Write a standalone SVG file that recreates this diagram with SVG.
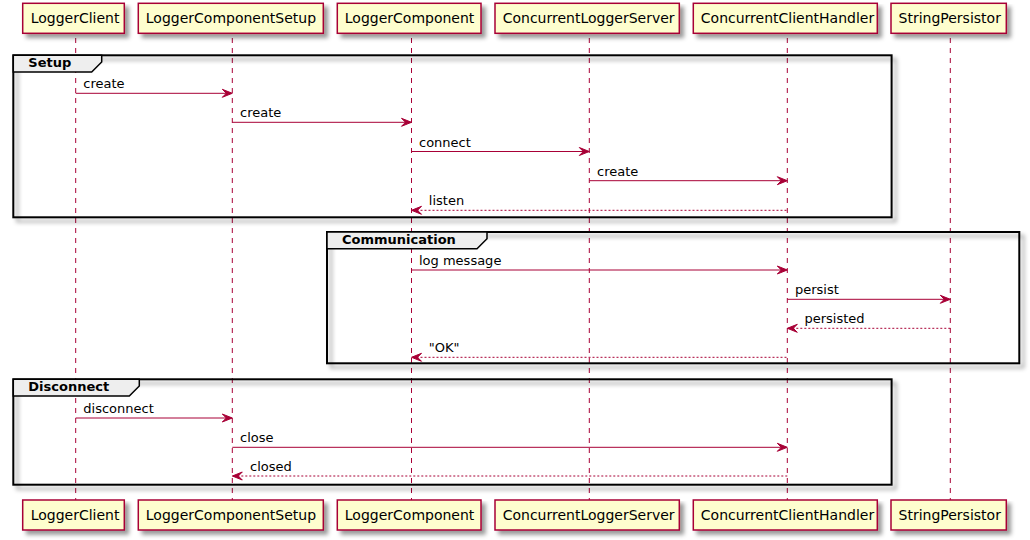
<svg xmlns="http://www.w3.org/2000/svg" width="1030" height="540" viewBox="0 0 1030 540">
<style>
.bg{fill:#FFFFFF}
.life{stroke:#A80036;stroke-width:1;stroke-dasharray:5,5;fill:none}
.pbox{fill:#FEFECE;stroke:#A80036;stroke-width:1.5}
.ptxt{font-family:"DejaVu Sans",sans-serif;font-size:14px;fill:#000000}
.frame{fill:none;stroke:#000000;stroke-width:2}
.tab{fill:#EEEEEE;stroke:#000000;stroke-width:1.5}
.ftxt{font-family:"DejaVu Sans",sans-serif;font-size:13px;font-weight:bold;fill:#000000}
.msg{stroke:#A80036;stroke-width:1;fill:none}
.ret{stroke:#A80036;stroke-width:1;fill:none;stroke-dasharray:2,2}
.head{fill:#A80036;stroke:#A80036;stroke-width:1}
.mtxt{font-family:"DejaVu Sans",sans-serif;font-size:13px;fill:#000000}
</style>
<defs>
<filter id="sh" x="-0.1" y="-0.1" width="1.3" height="1.5">
<feGaussianBlur in="SourceAlpha" stdDeviation="2" result="b"/>
<feColorMatrix in="b" type="matrix" values="0 0 0 0 0  0 0 0 0 0  0 0 0 0 0  0 0 0 .4 0" result="b2"/>
<feOffset in="b2" dx="4" dy="4" result="b3"/>
<feMerge><feMergeNode in="b3"/><feMergeNode in="SourceGraphic"/></feMerge>
</filter>
</defs>
<rect class="bg" x="0" y="0" width="1030" height="540"/>

<g id="lifelines">
<line class="life" x1="75.7" y1="38" x2="75.7" y2="500"/>
<line class="life" x1="232.3" y1="38" x2="232.3" y2="500"/>
<line class="life" x1="411.5" y1="38" x2="411.5" y2="500"/>
<line class="life" x1="589.3" y1="38" x2="589.3" y2="500"/>
<line class="life" x1="787.3" y1="38" x2="787.3" y2="500"/>
<line class="life" x1="950.3" y1="38" x2="950.3" y2="500"/>
</g>

<g id="frame-setup">
<rect class="frame" x="13.3" y="55.3" width="878.3" height="162" filter="url(#sh)"/>
<path class="tab" d="M13.3,55.3 L101.7,55.3 L101.7,62 L91.7,72 L13.3,72 Z"/>
<text class="ftxt" x="28.3" y="67.3">Setup</text>
</g>
<g id="frame-communication">
<rect class="frame" x="327" y="232" width="692.3" height="131.3" filter="url(#sh)"/>
<path class="tab" d="M327,232 L487,232 L487,238.7 L477,248.7 L327,248.7 Z"/>
<text class="ftxt" x="342" y="244">Communication</text>
</g>
<g id="frame-disconnect">
<rect class="frame" x="13.3" y="379.3" width="878.3" height="105.4" filter="url(#sh)"/>
<path class="tab" d="M13.3,379.3 L139.3,379.3 L139.3,386 L129.3,396 L13.3,396 Z"/>
<text class="ftxt" x="28.3" y="391.3">Disconnect</text>
</g>

<g id="connectors">
<line class="msg" x1="75.7" y1="93.3" x2="231.3" y2="93.3"/>
<polygon class="head" points="222.3,89.3 232.3,93.3 222.3,97.3 226.3,93.3"/>
<text class="mtxt" x="83.3" y="88.3">create</text>

<line class="msg" x1="232.3" y1="122.3" x2="410.5" y2="122.3"/>
<polygon class="head" points="401.5,118.3 411.5,122.3 401.5,126.3 405.5,122.3"/>
<text class="mtxt" x="240" y="117.3">create</text>

<line class="msg" x1="411.5" y1="151.5" x2="588.3" y2="151.5"/>
<polygon class="head" points="579.3,147.5 589.3,151.5 579.3,155.5 583.3,151.5"/>
<text class="mtxt" x="419" y="146.5">connect</text>

<line class="msg" x1="589.3" y1="180.7" x2="786.3" y2="180.7"/>
<polygon class="head" points="777.3,176.7 787.3,180.7 777.3,184.7 781.3,180.7"/>
<text class="mtxt" x="597" y="175.7">create</text>

<line class="ret" x1="412.5" y1="210.3" x2="787.3" y2="210.3"/>
<polygon class="head" points="421.5,206.3 411.5,210.3 421.5,214.3 417.5,210.3"/>
<text class="mtxt" x="428.8" y="205.3">listen</text>

<line class="msg" x1="411.5" y1="270" x2="786.3" y2="270"/>
<polygon class="head" points="777.3,266 787.3,270 777.3,274 781.3,270"/>
<text class="mtxt" x="419" y="265">log message</text>

<line class="msg" x1="787.3" y1="299.3" x2="949.3" y2="299.3"/>
<polygon class="head" points="940.3,295.3 950.3,299.3 940.3,303.3 944.3,299.3"/>
<text class="mtxt" x="795" y="294.3">persist</text>

<line class="ret" x1="788.3" y1="328.3" x2="950.3" y2="328.3"/>
<polygon class="head" points="797.3,324.3 787.3,328.3 797.3,332.3 793.3,328.3"/>
<text class="mtxt" x="804.5" y="323.3">persisted</text>

<line class="ret" x1="412.5" y1="357.3" x2="787.3" y2="357.3"/>
<polygon class="head" points="421.5,353.3 411.5,357.3 421.5,361.3 417.5,357.3"/>
<text class="mtxt" x="428.8" y="352.3">"OK"</text>

<line class="msg" x1="75.7" y1="418" x2="231.3" y2="418"/>
<polygon class="head" points="222.3,414 232.3,418 222.3,422 226.3,418"/>
<text class="mtxt" x="83.3" y="413">disconnect</text>

<line class="msg" x1="232.3" y1="447.3" x2="786.3" y2="447.3"/>
<polygon class="head" points="777.3,443.3 787.3,447.3 777.3,451.3 781.3,447.3"/>
<text class="mtxt" x="240" y="442.3">close</text>

<line class="ret" x1="233.3" y1="476" x2="787.3" y2="476"/>
<polygon class="head" points="242.3,472 232.3,476 242.3,480 238.3,476"/>
<text class="mtxt" x="250" y="471">closed</text>
</g>

<g id="LoggerClient">
<rect class="pbox" x="22.7" y="3.3" width="101.6" height="30" filter="url(#sh)"/>
<text class="ptxt" x="30.7" y="23.3">LoggerClient</text>
<rect class="pbox" x="22.7" y="500" width="101.6" height="30" filter="url(#sh)"/>
<text class="ptxt" x="30.7" y="520">LoggerClient</text>
</g>
<g id="LoggerComponentSetup">
<rect class="pbox" x="138.3" y="3.3" width="185" height="30" filter="url(#sh)"/>
<text class="ptxt" x="145.8" y="23.3">LoggerComponentSetup</text>
<rect class="pbox" x="138.3" y="500" width="185" height="30" filter="url(#sh)"/>
<text class="ptxt" x="145.8" y="520">LoggerComponentSetup</text>
</g>
<g id="LoggerComponent">
<rect class="pbox" x="337.3" y="3.3" width="143.7" height="30" filter="url(#sh)"/>
<text class="ptxt" x="344.8" y="23.3">LoggerComponent</text>
<rect class="pbox" x="337.3" y="500" width="143.7" height="30" filter="url(#sh)"/>
<text class="ptxt" x="344.8" y="520">LoggerComponent</text>
</g>
<g id="ConcurrentLoggerServer">
<rect class="pbox" x="495" y="3.3" width="184.3" height="30" filter="url(#sh)"/>
<text class="ptxt" x="502.7" y="23.3">ConcurrentLoggerServer</text>
<rect class="pbox" x="495" y="500" width="184.3" height="30" filter="url(#sh)"/>
<text class="ptxt" x="502.7" y="520">ConcurrentLoggerServer</text>
</g>
<g id="ConcurrentClientHandler">
<rect class="pbox" x="693.3" y="3.3" width="184" height="30" filter="url(#sh)"/>
<text class="ptxt" x="700.8" y="23.3">ConcurrentClientHandler</text>
<rect class="pbox" x="693.3" y="500" width="184" height="30" filter="url(#sh)"/>
<text class="ptxt" x="700.8" y="520">ConcurrentClientHandler</text>
</g>
<g id="StringPersistor">
<rect class="pbox" x="891" y="3.3" width="115.3" height="30" filter="url(#sh)"/>
<text class="ptxt" x="898.5" y="23.3">StringPersistor</text>
<rect class="pbox" x="891" y="500" width="115.3" height="30" filter="url(#sh)"/>
<text class="ptxt" x="898.5" y="520">StringPersistor</text>
</g>
</svg>
